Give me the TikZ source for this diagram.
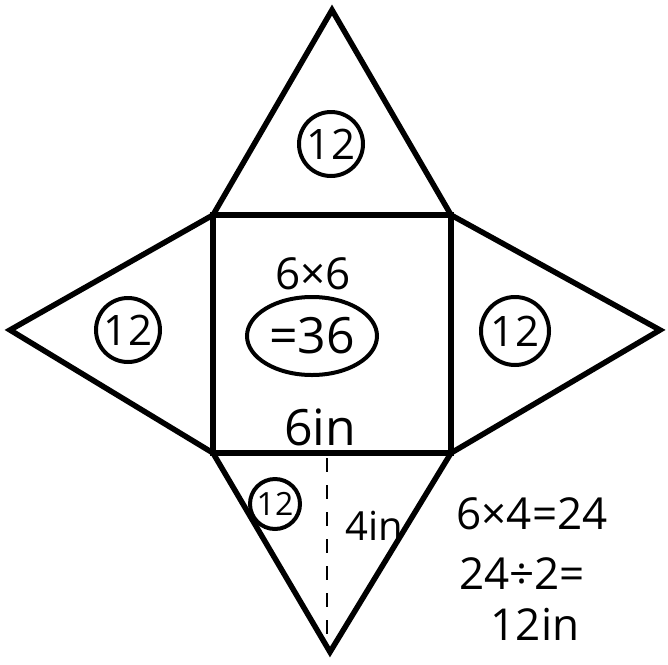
\documentclass[tikz,border=0pt]{standalone}
\usepackage{fontspec}
\setmainfont{Open Sans}
\usetikzlibrary{shapes.geometric, calc}

\begin{document}
\begin{tikzpicture}[
    x=1pt, y=-1pt,
    netline/.style={line width=5.5pt, line join=miter},
    heightline/.style={line width=2.6pt, dash pattern=on 14pt off 13pt},
    facenode/.style={circle, draw, line width=4pt, inner sep=0pt, minimum size=64pt, font=\fontsize{42}{42}\selectfont},
    areanode/.style={ellipse, draw, line width=4pt, inner sep=0pt, minimum width=130pt, minimum height=78pt, font=\fontsize{50}{50}\selectfont},
    handnode/.style={inner sep=0pt, font=\fontsize{44}{44}\selectfont}
  ]
  \useasboundingbox (0,0) rectangle (668,664);

  % Net corners
  \coordinate (sqtl) at (213,215);
  \coordinate (sqtr) at (451,215);
  \coordinate (sqbr) at (451,453);
  \coordinate (sqbl) at (213,453);
  \coordinate (apextop) at (332,10);
  \coordinate (apexleft) at (10,330);
  \coordinate (apexright) at (660,330);
  \coordinate (apexbottom) at (330,652);

  \draw[netline] (sqtl) -- (apextop) -- (sqtr) -- (apexright) -- (sqbr) -- (apexbottom) -- (sqbl) -- (apexleft) -- cycle;
  \draw[netline] (sqtl) rectangle (sqbr);

  % Height of the bottom face
  \coordinate (hbase) at (327,458);
  \coordinate (htip) at (327,650);
  \draw[heightline] (hbase) -- (htip);

  % Face areas
  \node[facenode] (facetop) at (331,144) {12};
  \node[facenode] (faceleft) at (128,330) {12};
  \node[facenode, minimum size=68pt] (faceright) at (515,331) {12};
  \node[facenode, minimum size=50pt, font=\fontsize{32}{32}\selectfont] (facebottom) at (275,504) {12};

  % Square base
  \node[handnode] (baseprod) at (313,274) {6×6};
  \node[areanode] (basearea) at (312,336) {=36};
  \node[handnode, font=\fontsize{50}{50}\selectfont] (baseside) at (320,427) {6in};
  \node[handnode, font=\fontsize{40}{40}\selectfont] (faceheight) at (374,526) {4in};

  % Working for one face
  \node[handnode] (calcone) at (532,514) {6×4=24};
  \node[handnode] (calctwo) at (522,574) {24÷2=};
  \node[handnode] (calcthree) at (535,624) {12in};

\end{tikzpicture}
\end{document}
